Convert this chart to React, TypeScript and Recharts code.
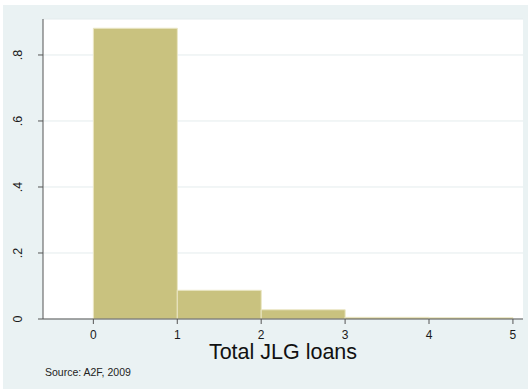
import React from 'react';
import { BarChart, Bar, XAxis, YAxis, CartesianGrid } from 'recharts';

// histogram bins (midpoints) and density per bin
const binMids = [0.5, 1.5, 2.5, 3.5, 4.5];
const densities = [0.881, 0.087, 0.028, 0.005, 0.004];
const xTicks = [0, 1, 2, 3, 4, 5];
const yTicks = [0, 0.2, 0.4, 0.6, 0.8];

const data = binMids.map((mid, i) => ({ mid, density: densities[i] }));

const FONT = '"Liberation Sans", Arial, Helvetica, sans-serif';

const fmtY = (v: number) => (v === 0 ? '0' : v.toFixed(1).replace(/^0/, ''));

function YTick(props: any) {
  const { y, payload } = props;
  const x = 22;
  return (
    <text
      x={x}
      y={y}
      transform={`rotate(-90, ${x}, ${y})`}
      textAnchor="middle"
      fontSize={12.5}
      fontFamily={FONT}
      fill="#1a1a1a"
    >
      {fmtY(payload.value)}
    </text>
  );
}

function AxisTitles(props: any) {
  const { viewBox } = props;
  const cx = viewBox.x + viewBox.width / 2;
  return (
    <g fontFamily={FONT}>
      <text x={cx} y={359} textAnchor="middle" fontSize={21.5} fill="#111">
        Total JLG loans
      </text>
      <text x={45} y={376} fontSize={10.5} fill="#222">
        Source: A2F, 2009
      </text>
    </g>
  );
}

export default function App() {
  return (
    <div style={{ position: 'fixed', left: 0, top: 0, width: 528, height: 391, background: '#fff' }}>
      <div style={{ position: 'absolute', left: 3, top: 5, width: 525, height: 384, background: '#eaf2f3' }} />
      <div style={{ position: 'absolute', left: 0, top: 0 }}>
        <BarChart
          width={528}
          height={391}
          data={data}
          margin={{ top: 19, right: 5, bottom: 0, left: 0 }}
          barCategoryGap={0}
          barGap={0}
        >
          <CartesianGrid vertical={false} stroke="#e4eced" fill="#ffffff" />
          <XAxis
            dataKey="mid"
            type="number"
            domain={[-0.6, 5.12]}
            ticks={xTicks}
            allowDataOverflow
            height={72}
            tickSize={5}
            tickMargin={6}
            stroke="#555"
            tick={{ fontSize: 12, fill: '#1a1a1a', fontFamily: FONT }}
            label={{ content: AxisTitles }}
          />
          <YAxis
            type="number"
            domain={[0, 0.909]}
            ticks={yTicks}
            allowDataOverflow
            width={43}
            tickSize={5}
            stroke="#555"
            tick={<YTick />}
          />
          <Bar
            dataKey="density"
            fill="#c9c27f"
            stroke="#ebe7c6"
            strokeWidth={1}
            isAnimationActive={false}
          />
        </BarChart>
      </div>
    </div>
  );
}
